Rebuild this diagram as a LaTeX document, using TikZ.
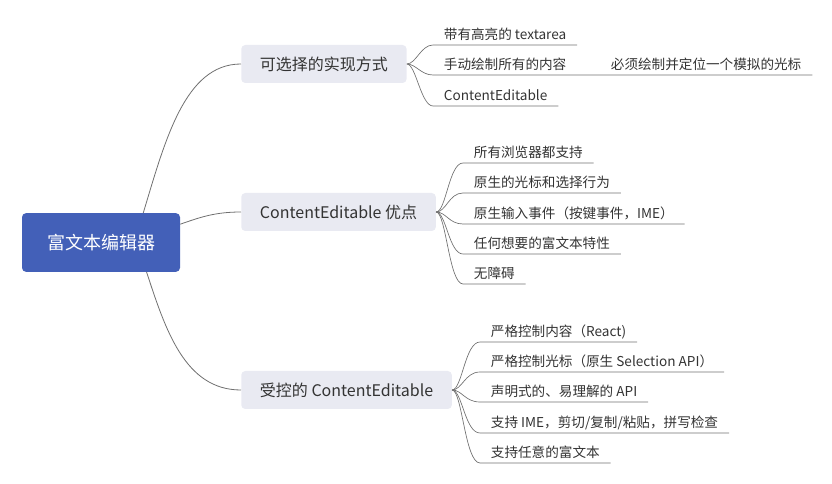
\documentclass[tikz,border=0pt]{standalone}
\usepackage{fontspec}
\setmainfont{Noto Sans CJK SC}
\usetikzlibrary{calc}
\definecolor{rootblue}{HTML}{4360B8}
\definecolor{topicgrey}{HTML}{E9EAF2}
\definecolor{textgrey}{HTML}{333333}
\definecolor{linegrey}{HTML}{707070}
\tikzset{
	rootbox/.style={fill=rootblue, rounded corners=3pt, text=white, inner sep=0pt,
		minimum width=118.5pt, minimum height=44pt, font=\fontsize{13.5}{16}\selectfont},
	topicbox/.style={fill=topicgrey, rounded corners=3pt, text=textgrey, anchor=west,
		inner xsep=14pt, inner ysep=0pt, minimum height=28.5pt, font=\fontsize{12}{14}\selectfont},
	leaf/.style={anchor=south west, text=textgrey, inner xsep=8pt, inner ysep=2.2pt,
		text height=0.8em, text depth=0.2em, font=\fontsize{10.2}{12}\selectfont},
	link/.style={draw=linegrey, line width=0.6pt},
	twig/.style={link, line width=0.5pt}
}

\begin{document}
\begin{tikzpicture}[x=0.75pt, y=-0.75pt]
		%%%%% START %%%%%
		\useasboundingbox (0, 0) rectangle (832, 484);
		
		\node[rootbox] (root) at (101, 242.5) {富文本编辑器};
		
		\node[topicbox] (impl) at (241, 64) {可选择的实现方式};
		\node[topicbox] (pros) at (241, 212) {ContentEditable 优点};
		\node[topicbox] (ctrl) at (241, 390) {受控的 ContentEditable};
		
		\draw[link] (root.35) .. controls +(22, -73) and +(-56, 0) .. (impl.west);
		\draw[link] (root.13) .. controls +(20, -7) and +(-26, 0) .. (pros.west);
		\draw[link] (root.-33) .. controls +(19, 58) and +(-56, 0) .. (ctrl.west);
		
		% ways to build it
		\node[leaf] (impl1) at (433, 45) {带有高亮的 textarea};
		\node[leaf] (impl2) at (433, 75) {手动绘制所有的内容};
		\node[leaf] (impl2a) at (600, 75) {必须绘制并定位一个模拟的光标};
		\node[leaf] (impl3) at (433, 106) {ContentEditable};
		
		\draw[twig] (impl.east) .. controls +(9, 0) and +(-12, 0) .. (impl1.south west) -- (impl1.south east);
		\draw[twig] (impl.east) .. controls +(9, 0) and +(-12, 0) .. (impl2.south west) -- (impl2a.south east);
		\draw[twig] (impl.east) .. controls +(9, 0) and +(-12, 0) .. (impl3.south west) -- (impl3.south east);
		
		% what ContentEditable gives
		\node[leaf] (pros1) at (463, 163) {所有浏览器都支持};
		\node[leaf] (pros2) at (463, 193) {原生的光标和选择行为};
		\node[leaf] (pros3) at (463, 224) {原生输入事件（按键事件，IME）};
		\node[leaf] (pros4) at (463, 254) {任何想要的富文本特性};
		\node[leaf] (pros5) at (463, 284) {无障碍};
		
		\draw[twig] (pros.east) .. controls +(10, 0) and +(-14, 0) .. (pros1.south west) -- (pros1.south east);
		\draw[twig] (pros.east) .. controls +(10, 0) and +(-14, 0) .. (pros2.south west) -- (pros2.south east);
		\draw[twig] (pros.east) .. controls +(10, 0) and +(-14, 0) .. (pros3.south west) -- (pros3.south east);
		\draw[twig] (pros.east) .. controls +(10, 0) and +(-14, 0) .. (pros4.south west) -- (pros4.south east);
		\draw[twig] (pros.east) .. controls +(10, 0) and +(-14, 0) .. (pros5.south west) -- (pros5.south east);
		
		% controlled ContentEditable
		\node[leaf] (ctrl1) at (480, 342) {严格控制内容（React)};
		\node[leaf] (ctrl2) at (480, 372) {严格控制光标（原生 Selection API）};
		\node[leaf] (ctrl3) at (480, 402) {声明式的、易理解的 API};
		\node[leaf] (ctrl4) at (480, 433) {支持 IME，剪切/复制/粘贴，拼写检查};
		\node[leaf] (ctrl5) at (480, 463) {支持任意的富文本};
		
		\draw[twig] (ctrl.east) .. controls +(10, 0) and +(-15, 0) .. (ctrl1.south west) -- (ctrl1.south east);
		\draw[twig] (ctrl.east) .. controls +(10, 0) and +(-15, 0) .. (ctrl2.south west) -- (ctrl2.south east);
		\draw[twig] (ctrl.east) .. controls +(10, 0) and +(-15, 0) .. (ctrl3.south west) -- (ctrl3.south east);
		\draw[twig] (ctrl.east) .. controls +(10, 0) and +(-15, 0) .. (ctrl4.south west) -- (ctrl4.south east);
		\draw[twig] (ctrl.east) .. controls +(10, 0) and +(-15, 0) .. (ctrl5.south west) -- (ctrl5.south east);
		%%%%% END %%%%%
	\end{tikzpicture}
\end{document}
